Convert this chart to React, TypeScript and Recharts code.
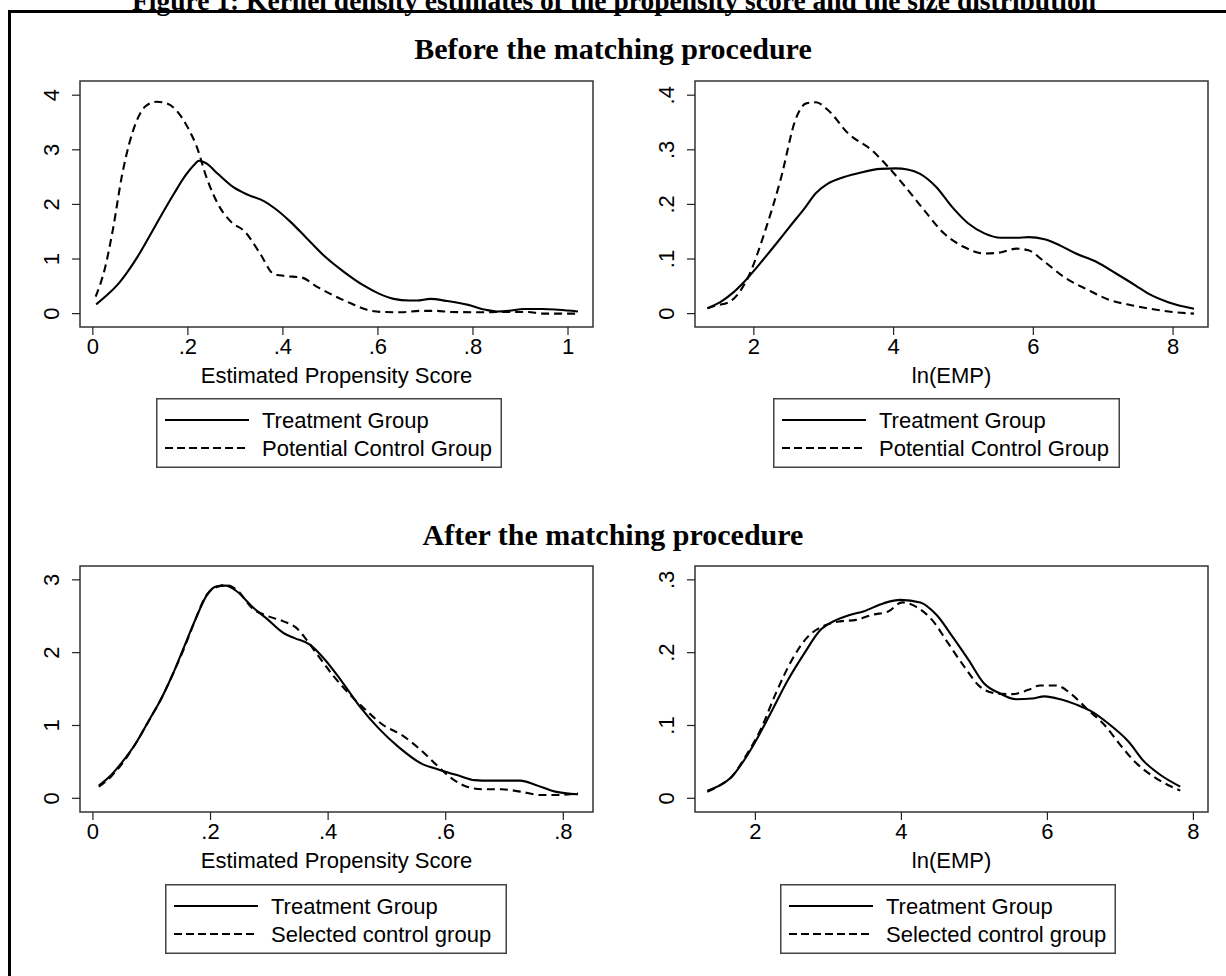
import React from "react";
import { LineChart, Line, XAxis, YAxis, ReferenceArea } from "recharts";

// ---------- DATA ----------
// Panel 1: propensity score, before matching
const psBeforeTreatment: [number, number][] = [
  [0.007, 0.17], [0.03, 0.34], [0.054, 0.55], [0.07, 0.73], [0.094, 1.04], [0.118, 1.4],
  [0.142, 1.77], [0.171, 2.2], [0.195, 2.53], [0.215, 2.74], [0.223, 2.8], [0.239, 2.75],
  [0.263, 2.56], [0.295, 2.32], [0.328, 2.17], [0.36, 2.06], [0.384, 1.92], [0.416, 1.68],
  [0.448, 1.4], [0.489, 1.04], [0.529, 0.76], [0.569, 0.52], [0.601, 0.37], [0.633, 0.27],
  [0.666, 0.24], [0.682, 0.24], [0.71, 0.27], [0.746, 0.23], [0.79, 0.16], [0.827, 0.07],
  [0.851, 0.04], [0.875, 0.05], [0.907, 0.085], [0.947, 0.085], [0.98, 0.07], [1.021, 0.04],
];
const psBeforeControl: [number, number][] = [
  [0.006, 0.31], [0.026, 0.85], [0.042, 1.53], [0.062, 2.56], [0.09, 3.48], [0.114, 3.82],
  [0.134, 3.88], [0.155, 3.85], [0.175, 3.73], [0.199, 3.42], [0.219, 3.05], [0.239, 2.5],
  [0.267, 1.95], [0.291, 1.68], [0.32, 1.5], [0.352, 1.1], [0.38, 0.73], [0.404, 0.69],
  [0.44, 0.66], [0.472, 0.49], [0.505, 0.34], [0.545, 0.18], [0.577, 0.07], [0.609, 0.03],
  [0.65, 0.025], [0.69, 0.05], [0.722, 0.05], [0.754, 0.03], [0.81, 0.025], [0.851, 0.03],
  [0.915, 0.03], [0.947, 0.0], [1.021, 0.0],
];
// Panel 2: ln(EMP), before matching
const empBeforeTreatment: [number, number][] = [
  [1.336, 0.01], [1.52, 0.021], [1.69, 0.037], [1.86, 0.058], [2.09, 0.092], [2.32, 0.128],
  [2.55, 0.165], [2.72, 0.192], [2.89, 0.221], [3.06, 0.238], [3.29, 0.25], [3.52, 0.258],
  [3.81, 0.265], [4.03, 0.266], [4.2, 0.264], [4.38, 0.256], [4.61, 0.232], [4.84, 0.195],
  [5.07, 0.165], [5.3, 0.147], [5.53, 0.139], [5.76, 0.139], [5.93, 0.14], [6.16, 0.136],
  [6.38, 0.125], [6.61, 0.11], [6.9, 0.095], [7.19, 0.073], [7.47, 0.051], [7.64, 0.037],
  [7.93, 0.021], [8.3, 0.009],
];
const empBeforeControl: [number, number][] = [
  [1.336, 0.01], [1.46, 0.015], [1.63, 0.02], [1.78, 0.037], [1.92, 0.067], [2.15, 0.147],
  [2.38, 0.244], [2.61, 0.36], [2.75, 0.385], [2.89, 0.387], [3.06, 0.373], [3.35, 0.33],
  [3.69, 0.299], [3.92, 0.269], [4.15, 0.235], [4.44, 0.189], [4.72, 0.147], [5.01, 0.122],
  [5.3, 0.11], [5.53, 0.112], [5.76, 0.119], [5.93, 0.116], [6.16, 0.095], [6.44, 0.067],
  [6.79, 0.043], [7.07, 0.026], [7.42, 0.015], [7.76, 0.007], [7.99, 0.003], [8.3, 0.0],
];
// Panel 3: propensity score, after matching
const psAfterTreatment: [number, number][] = [
  [0.01, 0.174], [0.031, 0.32], [0.05, 0.5], [0.073, 0.756], [0.096, 1.08], [0.115, 1.35],
  [0.135, 1.69], [0.154, 2.06], [0.174, 2.45], [0.193, 2.78], [0.21, 2.91], [0.226, 2.92],
  [0.245, 2.84], [0.271, 2.63], [0.298, 2.45], [0.324, 2.27], [0.343, 2.2], [0.369, 2.11],
  [0.395, 1.9], [0.421, 1.63], [0.454, 1.26], [0.486, 0.96], [0.519, 0.71], [0.558, 0.48],
  [0.59, 0.39], [0.623, 0.31], [0.649, 0.25], [0.675, 0.243], [0.701, 0.243], [0.727, 0.243],
  [0.753, 0.183], [0.786, 0.092], [0.825, 0.055],
];
const psAfterControl: [number, number][] = [
  [0.01, 0.16], [0.031, 0.3], [0.05, 0.48], [0.073, 0.756], [0.096, 1.08], [0.115, 1.35],
  [0.135, 1.69], [0.154, 2.04], [0.174, 2.45], [0.193, 2.79], [0.21, 2.9], [0.226, 2.93],
  [0.245, 2.86], [0.271, 2.61], [0.298, 2.5], [0.324, 2.43], [0.346, 2.34], [0.363, 2.18],
  [0.382, 1.97], [0.408, 1.69], [0.44, 1.4], [0.467, 1.19], [0.493, 1.01], [0.525, 0.87],
  [0.558, 0.66], [0.584, 0.46], [0.61, 0.275], [0.636, 0.16], [0.662, 0.124], [0.695, 0.124],
  [0.727, 0.092], [0.76, 0.046], [0.792, 0.046], [0.825, 0.069],
];
// Panel 4: ln(EMP), after matching
const empAfterTreatment: [number, number][] = [
  [1.342, 0.0105], [1.518, 0.018], [1.68, 0.03], [1.85, 0.053], [2.04, 0.085], [2.23, 0.121],
  [2.45, 0.163], [2.67, 0.199], [2.89, 0.231], [3.11, 0.245], [3.27, 0.251], [3.49, 0.257],
  [3.76, 0.268], [3.99, 0.2725], [4.26, 0.269], [4.48, 0.252], [4.7, 0.222], [4.92, 0.19],
  [5.13, 0.158], [5.35, 0.144], [5.57, 0.136], [5.79, 0.137], [5.96, 0.14], [6.18, 0.136],
  [6.39, 0.129], [6.61, 0.119], [6.83, 0.103], [7.11, 0.078], [7.33, 0.05], [7.55, 0.032],
  [7.82, 0.016],
];
const empAfterControl: [number, number][] = [
  [1.342, 0.009], [1.518, 0.018], [1.68, 0.03], [1.85, 0.055], [2.07, 0.094], [2.28, 0.144],
  [2.5, 0.19], [2.72, 0.222], [2.94, 0.237], [3.16, 0.243], [3.38, 0.245], [3.6, 0.252],
  [3.82, 0.2565], [4.01, 0.269], [4.21, 0.2625], [4.42, 0.245], [4.64, 0.213], [4.86, 0.181],
  [5.08, 0.153], [5.3, 0.144], [5.52, 0.143], [5.74, 0.149], [5.9, 0.155], [6.12, 0.155],
  [6.34, 0.142], [6.56, 0.121], [6.78, 0.101], [7.0, 0.073], [7.22, 0.048], [7.49, 0.0275],
  [7.82, 0.0105],
];

// Ticks
const psBeforeXTicks = [0, 0.2, 0.4, 0.6, 0.8, 1];
const psBeforeYTicks = [0, 1, 2, 3, 4];
const empBeforeXTicks = [2, 4, 6, 8];
const empBeforeYTicks = [0, 0.1, 0.2, 0.3, 0.4];
const psAfterXTicks = [0, 0.2, 0.4, 0.6, 0.8];
const psAfterYTicks = [0, 1, 2, 3];
const empAfterXTicks = [2, 4, 6, 8];
const empAfterYTicks = [0, 0.1, 0.2, 0.3];

// Text
const figureTitle = "Figure 1: Kernel density estimates of the propensity score and the size distribution";
const sectionTitles = ["Before the matching procedure", "After the matching procedure"];
const xTitles = ["Estimated Propensity Score", "ln(EMP)"];
const treatmentLabel = "Treatment Group";
const controlLabels = ["Potential Control Group", "Selected control group"];

// ---------- LAYOUT ----------
const SANS = "'Liberation Sans', Arial, Helvetica, sans-serif";
const SERIF = "'Liberation Serif', 'Times New Roman', serif";
const FS = 22;

type Pt = [number, number];
interface Panel {
  box: [number, number, number, number]; // left, top, right, bottom (page px)
  xDomain: [number, number];
  yDomain: [number, number];
  xTicks: number[];
  yTicks: number[];
  treatment: Pt[];
  control: Pt[];
  xTitle: string;
  controlLabel: string;
  legend: [number, number, number]; // left, top, width
}

const panels: Panel[] = [
  {
    box: [80, 81, 593, 327], xDomain: [-0.027, 1.0526], yDomain: [-0.245, 4.26],
    xTicks: psBeforeXTicks, yTicks: psBeforeYTicks,
    treatment: psBeforeTreatment, control: psBeforeControl,
    xTitle: xTitles[0], controlLabel: controlLabels[0], legend: [156, 398, 346],
  },
  {
    box: [695, 81, 1208, 327], xDomain: [1.158, 8.5], yDomain: [-0.0245, 0.426],
    xTicks: empBeforeXTicks, yTicks: empBeforeYTicks,
    treatment: empBeforeTreatment, control: empBeforeControl,
    xTitle: xTitles[1], controlLabel: controlLabels[0], legend: [773, 398, 347],
  },
  {
    box: [80, 566, 593, 812], xDomain: [-0.022, 0.8505], yDomain: [-0.188, 3.19],
    xTicks: psAfterXTicks, yTicks: psAfterYTicks,
    treatment: psAfterTreatment, control: psAfterControl,
    xTitle: xTitles[0], controlLabel: controlLabels[1], legend: [165, 884, 342],
  },
  {
    box: [695, 566, 1208, 812], xDomain: [1.173, 8.2], yDomain: [-0.0188, 0.319],
    xTicks: empAfterXTicks, yTicks: empAfterYTicks,
    treatment: empAfterTreatment, control: empAfterControl,
    xTitle: xTitles[1], controlLabel: controlLabels[1], legend: [780, 884, 336],
  },
];

const fmt = (v: number) => {
  if (v === 0) return "0";
  if (Number.isInteger(v)) return String(v);
  return String(+v.toFixed(3)).replace(/^0\./, ".");
};

const XTick = (props: any) => {
  const { x, y, payload } = props;
  return (
    <text x={x} y={y + 19} textAnchor="middle" fontFamily={SANS} fontSize={FS} fill="#000">
      {fmt(payload.value)}
    </text>
  );
};

const YTick = (props: any) => {
  const { x, y, payload } = props;
  const bx = x - 12.5;
  return (
    <text x={bx} y={y} textAnchor="middle" fontFamily={SANS} fontSize={FS} fill="#000"
      transform={`rotate(-90, ${bx}, ${y})`}>
      {fmt(payload.value)}
    </text>
  );
};

const toData = (pts: Pt[]) => pts.map(([x, y]) => ({ x, y }));

const PanelChart = ({ p }: { p: Panel }) => {
  const [L, T, R, B] = p.box;
  const ML = 80, MT = 10, MR = 10, MB = 60;
  const w = R - L + ML + MR;
  const h = B - T + MT + MB;
  return (
    <div style={{ position: "absolute", left: L - ML, top: T - MT, width: w, height: h }}>
      <LineChart width={w} height={h} margin={{ top: MT, right: MR, bottom: 0, left: 0 }}>
        <XAxis type="number" dataKey="x" domain={p.xDomain} ticks={p.xTicks} allowDataOverflow
          axisLine={false} tickLine={{ stroke: "#222", strokeWidth: 1.2 }} tickSize={8} tickMargin={0}
          tick={<XTick />} height={MB} interval={0} />
        <YAxis type="number" domain={p.yDomain} ticks={p.yTicks} allowDataOverflow
          axisLine={false} tickLine={{ stroke: "#222", strokeWidth: 1.2 }} tickSize={8} tickMargin={0}
          tick={<YTick />} width={ML} interval={0} />
        <ReferenceArea x1={p.xDomain[0]} x2={p.xDomain[1]} y1={p.yDomain[0]} y2={p.yDomain[1]}
          fill="none" stroke="#333" strokeWidth={1.5} ifOverflow="visible" />
        <Line data={toData(p.treatment)} dataKey="y" type="monotone" stroke="#000" strokeWidth={2.1}
          dot={false} isAnimationActive={false} />
        <Line data={toData(p.control)} dataKey="y" type="monotone" stroke="#000" strokeWidth={2.1}
          strokeDasharray="8 5" dot={false} isAnimationActive={false} />
      </LineChart>
    </div>
  );
};

const LegendBox = ({ p }: { p: Panel }) => {
  const [l, t, w] = p.legend;
  const hgt = 70;
  const rows = [
    { label: treatmentLabel, dash: undefined as string | undefined, cy: 22 },
    { label: p.controlLabel, dash: "8 4", cy: 50 },
  ];
  return (
    <svg style={{ position: "absolute", left: l, top: t }} width={w} height={hgt}>
      <rect x={0.75} y={0.75} width={w - 1.5} height={hgt - 1.5} fill="#fff" stroke="#444" strokeWidth={1.5} />
      {rows.map((r, i) => (
        <g key={i}>
          <line x1={9} x2={93} y1={r.cy} y2={r.cy} stroke="#000" strokeWidth={2.1} strokeDasharray={r.dash} />
          <text x={106} y={r.cy + 8} fontFamily={SANS} fontSize={FS} fill="#000">{r.label}</text>
        </g>
      ))}
    </svg>
  );
};

export default function App() {
  return (
    <div style={{ position: "absolute", left: 0, top: 0, width: 1226, height: 976, overflow: "hidden", background: "#fff" }}>
      <svg style={{ position: "absolute", left: 0, top: 0 }} width={1226} height={976}>
        <text x={614} y={10} textAnchor="middle" fontFamily={SERIF} fontWeight="bold" fontSize={27.5}>{figureTitle}</text>
        <line x1={8} x2={1226} y1={11.5} y2={11.5} stroke="#000" strokeWidth={3} />
        <line x1={9.5} x2={9.5} y1={10} y2={976} stroke="#000" strokeWidth={3} />
        <text x={613} y={59} textAnchor="middle" fontFamily={SERIF} fontWeight="bold" fontSize={30}>{sectionTitles[0]}</text>
        <text x={613} y={545} textAnchor="middle" fontFamily={SERIF} fontWeight="bold" fontSize={30}>{sectionTitles[1]}</text>
        {panels.map((p, i) => (
          <text key={i} x={(p.box[0] + p.box[2]) / 2} y={p.box[3] + 56} textAnchor="middle"
            fontFamily={SANS} fontSize={FS}>{p.xTitle}</text>
        ))}
      </svg>
      {panels.map((p, i) => <PanelChart key={i} p={p} />)}
      {panels.map((p, i) => <LegendBox key={"l" + i} p={p} />)}
    </div>
  );
}
